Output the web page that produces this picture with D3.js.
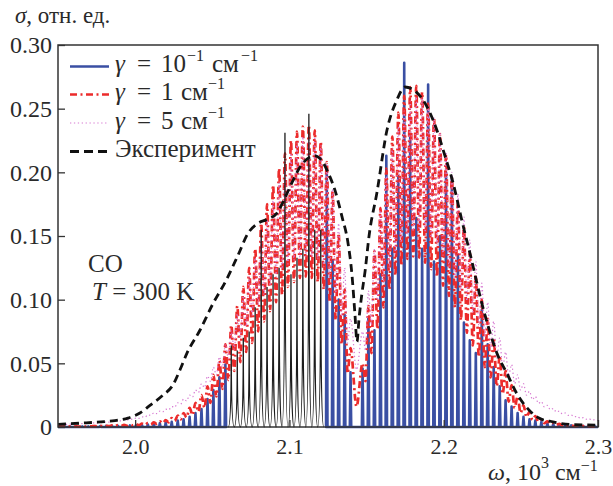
<!DOCTYPE html>
<html><head><meta charset="utf-8">
<script src="https://cdn.jsdelivr.net/npm/d3@7"></script>
<style>body{margin:0;background:#fff} svg{display:block}</style>
</head><body>
<svg id="chart" width="613" height="486"></svg>
<script>
// ---- data (ω in 10^3 cm^-1, σ in arbitrary units) ----
// rotational line positions, ascending: P(50)…P(1), R(0)…R(39)
const linePos = [
 1.9502,1.9541,1.9580,1.9618,1.9657,1.9696,1.9734,1.9773,1.9812,1.9850,
 1.9889,1.9928,1.9966,2.0005,2.0044,2.0082,2.0121,2.0160,2.0198,2.0237,
 2.0276,2.0314,2.0353,2.0391,2.0430,2.0469,2.0507,2.0546,2.0585,2.0623,
 2.0662,2.0701,2.0739,2.0778,2.0817,2.0855,2.0894,2.0933,2.0971,2.1010,
 2.1049,2.1087,2.1126,2.1164,2.1203,2.1242,2.1280,2.1319,2.1358,2.1396,
 2.1474,2.1512,2.1551,2.1590,2.1628,2.1667,2.1706,2.1744,2.1783,2.1822,
 2.1860,2.1899,2.1937,2.1976,2.2015,2.2053,2.2092,2.2131,2.2169,2.2208,
 2.2247,2.2285,2.2324,2.2363,2.2401,2.2440,2.2479,2.2517,2.2556,2.2594,
 2.2633,2.2672,2.2710,2.2749,2.2788,2.2826,2.2865,2.2904,2.2942,2.2981];

// γ = 0.1 cm^-1 : peak heights at each line
const gamma01 = [
 .0003,.0003,.0004,.0004,.0005,.0005,.0006,.0007,.0008,.0009,
 .0009,.001,.0012,.0014,.0017,.002,.0025,.003,.0035,.004,
 .005,.006,.008,.011,.014,.022,.029,.039,.049,.064,
 .06,.07,.075,.094,.155,.11,.12,.125,.231,.12,
 .133,.14,.246,.155,.155,.204,.131,.10,.088,.043,
 .046,.086,.076,.12,.213,.14,.197,.286,.228,.164,
 .14,.269,.13,.15,.2,.196,.135,.082,.068,.058,
 .092,.065,.047,.032,.021,.016,.011,.008,.006,.005,
 .004,.003,.0025,.002,.0015,.0012,.001,.0008,.0006,.0005];
// lines whose γ = 0.1 profile is printed as thin black strokes in the original (index range)
const thinBlackFrom = 29, thinBlackTo = 44;

// γ = 1 cm^-1 : values at line centres and between neighbouring lines
const gamma1Peak = [
 .0004,.0004,.0005,.0005,.0006,.0007,.0008,.0009,.001,.0012,
 .0014,.0016,.0019,.0022,.0026,.003,.0036,.0045,.0055,.007,
 .009,.011,.015,.019,.025,.032,.041,.052,.065,.08,
 .095,.11,.125,.14,.16,.175,.19,.203,.215,.225,
 .232,.236,.237,.233,.224,.208,.185,.152,.108,.062,
 .05,.095,.138,.172,.203,.228,.247,.26,.267,.268,
 .263,.254,.243,.23,.214,.196,.177,.157,.137,.119,
 .1,.085,.07,.056,.044,.033,.024,.017,.012,.0085,
 .006,.0045,.0033,.0025,.0018,.0013,.001,.0007,.0005,.0004];
const gamma1Valley = [
 .0003,.0003,.0003,.0003,.0004,.0005,.0005,.0006,.0007,.0008,
 .0009,.001,.0012,.0014,.0017,.002,.0024,.003,.0037,.0048,
 .006,.0075,.0095,.012,.015,.019,.024,.03,.037,.044,
 .051,.059,.066,.075,.083,.091,.098,.104,.11,.114,
 .117,.118,.117,.114,.108,.098,.084,.065,.042,.016,
 .036,.058,.077,.094,.108,.119,.127,.132,.134,.133,
 .129,.124,.118,.111,.103,.094,.084,.074,.064,.055,
 .047,.039,.032,.026,.02,.015,.011,.0078,.0056,.004,
 .003,.0023,.0017,.0013,.0009,.0007,.0005,.0004,.0003];
const gamma1Ends = [.0003, .0003];

// γ = 5 cm^-1
const gamma5Peak = [
 .002,.0021,.0023,.0025,.0027,.003,.0033,.0036,.004,.0045,
 .005,.0056,.0063,.007,.008,.0095,.011,.0125,.014,.016,
 .019,.022,.025,.029,.034,.04,.047,.055,.065,.076,
 .089,.103,.118,.133,.148,.163,.178,.192,.205,.215,
 .223,.228,.23,.228,.221,.207,.187,.16,.125,.085,
 .075,.107,.14,.17,.197,.219,.236,.248,.256,.259,
 .258,.252,.243,.231,.216,.2,.183,.165,.147,.13,
 .113,.098,.083,.07,.059,.049,.041,.034,.028,.024,
 .02,.017,.0145,.0125,.011,.0095,.0083,.0073,.0064,.0057];
const gamma5Valley = [
 .0019,.002,.0022,.0023,.0026,.0028,.0031,.0034,.0038,.0043,
 .0048,.0054,.006,.0068,.0077,.0092,.0105,.012,.0135,.0155,
 .018,.0205,.0235,.027,.031,.036,.041,.047,.054,.061,
 .07,.079,.088,.096,.104,.111,.118,.124,.128,.131,
 .133,.134,.134,.132,.126,.117,.105,.087,.066,.045,
 .06,.08,.098,.113,.125,.136,.145,.151,.154,.155,
 .153,.149,.143,.135,.126,.117,.108,.099,.09,.08,
 .071,.062,.054,.046,.04,.034,.029,.025,.0215,.0185,
 .0158,.0136,.0118,.0104,.0092,.008,.007,.0061,.0055];
const gamma5Ends = [.002, .005];

// experiment
const expOmega = [1.950,1.9643,1.9779,1.9869,1.9954,2.0031,2.0096,2.0180,2.0245,2.0291,
 2.0336,2.0420,2.0505,2.0589,2.0667,2.0731,2.0796,2.0855,2.0919,2.0971,
 2.1017,2.1068,2.1120,2.1166,2.1211,2.1250,2.1295,2.1341,2.1379,2.1405,
 2.1425,2.1438,2.1451,2.1470,2.1490,2.1516,2.1567,2.1632,2.1697,2.1749,
 2.1801,2.1846,2.1885,2.1956,2.2008,2.2060,2.2118,2.2177,2.2241,2.2293,
 2.2345,2.2410,2.2475,2.2540,2.2617,2.2708,2.2818,2.2998];
const expSigma = [.002,.003,.004,.005,.007,.011,.017,.025,.033,.045,
 .058,.076,.097,.115,.135,.152,.16,.163,.168,.18,
 .192,.204,.211,.213,.209,.2,.186,.165,.145,.12,
 .088,.067,.085,.105,.122,.15,.184,.233,.257,.267,
 .265,.26,.253,.233,.213,.192,.162,.133,.1,.077,
 .058,.042,.026,.015,.007,.004,.002,.0015];

const xTicks = [2.0, 2.1, 2.2, 2.3];
const yTicks = [0, 0.05, 0.10, 0.15, 0.20, 0.25, 0.30];
const yTickLabels = ["0", "0.05", "0.10", "0.15", "0.20", "0.25", "0.30"];

// ---- drawing ----
const FONT = "'Liberation Serif','Times New Roman',serif";
const C = {blue:"#3a4fa3", red:"#ec2b2b", mag:"#d77ad2", exp:"#111", thin:"#1c1c1c", ink:"#2a2a2a"};
const RED_DASH = "7,3.5,2,3.5";
const svg = d3.select("#chart");
const x = d3.scaleLinear().domain([1.95, 2.30]).range([58, 598]);
const y = d3.scaleLinear().domain([0, 0.30]).range([427, 45]);
const y0 = y(0);

svg.append("defs").append("clipPath").attr("id","plot")
  .append("rect").attr("x",58).attr("y",44).attr("width",540).attr("height",385);

const g = svg.append("g").attr("clip-path","url(#plot)");

// γ = 0.1 sticks (blue runs)
function stickRun(idx, start, end) {
  let d = "M" + x(start) + "," + y0;
  idx.forEach(i => {
    const px = x(linePos[i]), py = y(gamma01[i]);
    d += "L" + (px - 0.7) + "," + y0 + "L" + px + "," + py + "L" + (px + 0.7) + "," + y0;
  });
  d += "L" + x(end) + "," + y0;
  return d;
}
const leftIdx = d3.range(0, thinBlackFrom);
const rightIdx = d3.range(thinBlackTo + 1, linePos.length);
g.append("path").attr("d", stickRun(leftIdx, 1.95, linePos[thinBlackFrom - 1]))
  .attr("fill","none").attr("stroke",C.blue).attr("stroke-width",2.6).attr("stroke-linejoin","round");
g.append("path").attr("d", stickRun(rightIdx, linePos[thinBlackTo + 1], 2.30))
  .attr("fill","none").attr("stroke",C.blue).attr("stroke-width",2.6).attr("stroke-linejoin","round");

// oscillating curves for γ = 1 and γ = 5
function oscPoints(peaks, valleys, ends) {
  const pts = [[1.95, ends[0]]];
  linePos.forEach((p, i) => {
    pts.push([p, peaks[i]]);
    if (i < linePos.length - 1) pts.push([(p + linePos[i + 1]) / 2, valleys[i]]);
  });
  pts.push([2.30, ends[1]]);
  return pts;
}
const line = d3.line().x(d => x(d[0])).y(d => y(d[1])).curve(d3.curveMonotoneX);

g.append("path").attr("d", line(oscPoints(gamma1Peak, gamma1Valley, gamma1Ends)))
  .attr("fill","none").attr("stroke",C.red).attr("stroke-width",2.7)
  .attr("stroke-dasharray",RED_DASH);
g.append("path").attr("d", line(oscPoints(gamma5Peak, gamma5Valley, gamma5Ends)))
  .attr("fill","none").attr("stroke",C.mag).attr("stroke-width",1.2)
  .attr("stroke-dasharray","1.3,2.6");

// thin black sticks
(function(){
  let d = "";
  for (let i = thinBlackFrom; i <= thinBlackTo; i++) {
    const px = x(linePos[i]), py = y(gamma01[i]);
    d += (i === thinBlackFrom ? "M" : "L") + (px - 3) + "," + y0 +
         "Q" + px + "," + y0 + " " + px + "," + py +
         "Q" + px + "," + y0 + " " + (px + 3) + "," + y0;
  }
  g.append("path").attr("d", d).attr("fill","none").attr("stroke",C.thin).attr("stroke-width",1.3);
})();

// experiment
g.append("path").attr("d", line(expOmega.map((w, i) => [w, expSigma[i]])))
  .attr("fill","none").attr("stroke",C.exp).attr("stroke-width",2.8)
  .attr("stroke-dasharray","8,5");

// frame
svg.append("rect").attr("x",58).attr("y",45).attr("width",540).attr("height",382)
  .attr("fill","none").attr("stroke","#333").attr("stroke-width",1.5);

// axes
const ax = svg.append("g").attr("transform","translate(58,0)")
  .call(d3.axisLeft(y).tickValues(yTicks).tickFormat((d,i) => yTickLabels[i])
        .tickSizeInner(-7).tickSizeOuter(0).tickPadding(6));
ax.select(".domain").remove();
ax.selectAll("line").attr("stroke","#333").attr("stroke-width",1.3);
ax.selectAll("text").attr("font-family",FONT).attr("font-size",24).attr("fill",C.ink);

const bx = svg.append("g").attr("transform","translate(0,427)")
  .call(d3.axisBottom(x).tickValues(xTicks).tickFormat(d3.format(".1f"))
        .tickSizeInner(-7).tickSizeOuter(0).tickPadding(11));
bx.select(".domain").remove();
bx.selectAll("line").attr("stroke","#333").attr("stroke-width",1.3);
bx.selectAll("text").attr("font-family",FONT).attr("font-size",22).attr("fill",C.ink);

// axis titles
const t1 = svg.append("text").attr("x",15).attr("y",23)
  .attr("font-family",FONT).attr("font-size",23).attr("fill",C.ink);
t1.append("tspan").attr("font-style","italic").text("σ");
t1.append("tspan").text(", отн. ед.");

const t2 = svg.append("text").attr("x",488).attr("y",480)
  .attr("font-family",FONT).attr("font-size",24).attr("fill",C.ink);
t2.append("tspan").attr("font-style","italic").text("ω");
t2.append("tspan").text(", 10");
t2.append("tspan").attr("font-size",16).attr("dy",-12).text("3");
t2.append("tspan").attr("dy",12).text(" см");
t2.append("tspan").attr("font-size",16).attr("dy",-9).text("−1");

// annotations
svg.append("text").attr("x",88).attr("y",272).attr("font-family",FONT).attr("font-size",25)
  .attr("fill",C.ink).text("CO");
const t3 = svg.append("text").attr("x",92).attr("y",300).attr("font-family",FONT)
  .attr("font-size",25).attr("fill",C.ink);
t3.append("tspan").attr("font-style","italic").text("T");
t3.append("tspan").text(" = 300 K");

// legend
const legend = [
  {stroke:C.blue, w:2.6, dash:null, base:72, parts:[["γ",115,true],["=",137],["10",161],["−1",187,false,true],["см",212],["−1",241,false,true]]},
  {stroke:C.red, w:2.7, dash:RED_DASH, base:100, parts:[["γ",115,true],["=",137],["1",161],["см",181],["−1",208,false,true]]},
  {stroke:C.mag, w:1.2, dash:"1.3,2.6", base:128.5, parts:[["γ",115,true],["=",137],["5",161],["см",181],["−1",208,false,true]]},
  {stroke:C.exp, w:2.8, dash:"9,5", base:157, parts:[["Эксперимент",115]]}
];
legend.forEach(L => {
  svg.append("line").attr("x1",70).attr("x2",109).attr("y1",L.base - 5.5).attr("y2",L.base - 5.5)
    .attr("stroke",L.stroke).attr("stroke-width",L.w).attr("stroke-dasharray",L.dash);
  L.parts.forEach(p => {
    svg.append("text").attr("x",p[1]).attr("y", p[3] ? L.base - 11 : L.base)
      .attr("font-family",FONT).attr("font-size", p[3] ? 16 : 25)
      .attr("font-style", p[2] ? "italic" : "normal").attr("fill",C.ink).text(p[0]);
  });
});
</script>
</body></html>
